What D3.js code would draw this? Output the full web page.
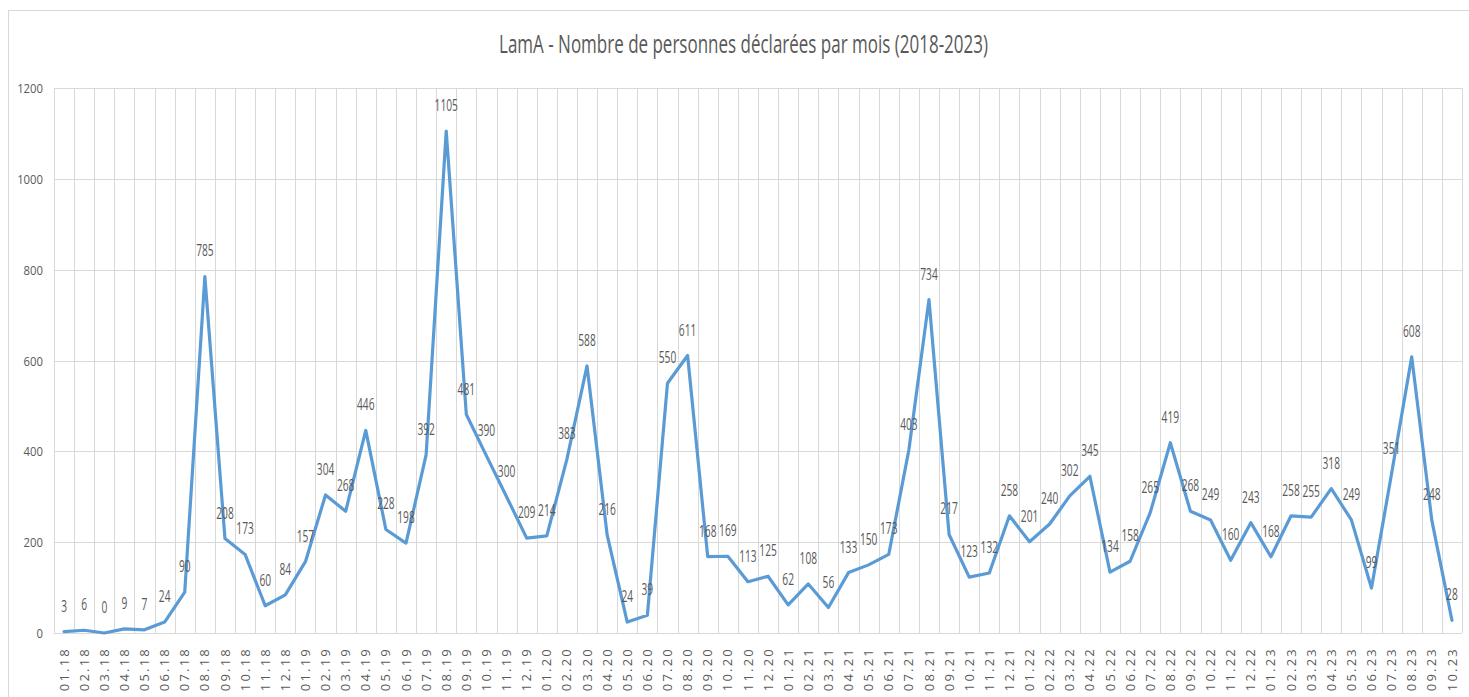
<!DOCTYPE html>
<html><head><meta charset="utf-8">
<script src="https://cdn.jsdelivr.net/npm/d3@7/dist/d3.min.js"></script>
<style>
body{margin:0;background:#fff;}
text{font-family:"Open Sans",Arial,sans-serif;fill:#595959;}
</style></head><body>
<svg id="c" width="1469" height="697"></svg>
<script>
const categories = [
"01.18","02.18","03.18","04.18","05.18","06.18","07.18","08.18","09.18","10.18","11.18","12.18",
"01.19","02.19","03.19","04.19","05.19","06.19","07.19","08.19","09.19","10.19","11.19","12.19",
"01.20","02.20","03.20","04.20","05.20","06.20","07.20","08.20","09.20","10.20","11.20","12.20",
"01.21","02.21","03.21","04.21","05.21","06.21","07.21","08.21","09.21","10.21","11.21","12.21",
"01.22","02.22","03.22","04.22","05.22","06.22","07.22","08.22","09.22","10.22","11.22","12.22",
"01.23","02.23","03.23","04.23","05.23","06.23","07.23","08.23","09.23","10.23"];
const values = [
3,6,0,9,7,24,90,785,208,173,60,84,
157,304,268,446,228,198,392,1105,481,390,300,209,
214,383,588,216,24,39,550,611,168,169,113,125,
62,108,56,133,150,173,403,734,217,123,132,258,
201,240,302,345,134,158,265,419,268,249,160,243,
168,258,255,318,249,99,351,608,248,28];
const yTicks = [0,200,400,600,800,1000,1200];
const title = "LamA - Nombre de personnes déclarées par mois (2018-2023)";

const svg = d3.select("#c");
const m = {left:54, right:1462, top:88, bottom:633};

svg.append("rect").attr("x",8.5).attr("y",10.5).attr("width",1470).attr("height",720)
  .attr("fill","#fff").attr("stroke","#D9D9D9").attr("stroke-width",1);

const x = d3.scaleBand().domain(categories).range([m.left,m.right]).paddingInner(0).paddingOuter(0);
const y = d3.scaleLinear().domain([0,1200]).range([m.bottom,m.top]);

// horizontal gridlines
svg.append("g").selectAll("line").data(yTicks).join("line")
  .attr("x1",m.left).attr("x2",m.right)
  .attr("y1",d=>Math.round(y(d))+0.5).attr("y2",d=>Math.round(y(d))+0.5)
  .attr("stroke","#D9D9D9").attr("stroke-width",1);

// vertical gridlines at category boundaries
const bounds = categories.map(c=>x(c)).concat([m.right]);
svg.append("g").selectAll("line").data(bounds).join("line")
  .attr("x1",d=>Math.round(d)+0.5).attr("x2",d=>Math.round(d)+0.5)
  .attr("y1",m.top).attr("y2",m.bottom)
  .attr("stroke","#D9D9D9").attr("stroke-width",1);

// y axis labels
const yAxis = d3.axisLeft(y).tickValues(yTicks).tickSize(0).tickFormat(d3.format("d"));
const ya = svg.append("g").attr("transform",`translate(${m.left},0)`).call(yAxis);
ya.select(".domain").remove();
ya.selectAll("text").style("font-size","13px").attr("fill","#595959")
  .attr("x",0).attr("dy","0.35em").attr("transform","translate(-11,0) scale(0.87,1)");

// x axis labels
const xAxis = d3.axisBottom(x).tickSize(0).tickPadding(0);
const xa = svg.append("g").attr("transform",`translate(0,${m.bottom})`).call(xAxis);
xa.select(".domain").remove();
xa.selectAll("text").style("font-size","13px").style("letter-spacing","2.2px").attr("fill","#595959")
  .attr("text-anchor","end").attr("dy","0.35em")
  .attr("transform","translate(0,14) rotate(-90)").attr("x",0).attr("y",0);

// line
const line = d3.line().x((d,i)=>x(categories[i])+x.bandwidth()/2).y(d=>y(d));
svg.append("path").datum(values).attr("d",line).attr("fill","none")
  .attr("stroke","#5B9BD5").attr("stroke-width",3.2).attr("stroke-linejoin","round").attr("stroke-linecap","round");

// data labels
svg.append("g").selectAll("text").data(values).join("text")
  .attr("transform",(d,i)=>`translate(${x(categories[i])+x.bandwidth()/2},${y(d)-20}) scale(0.6,1)`)
  .attr("text-anchor","middle").style("font-size","17px").attr("fill","#404040")
  .text(d=>d);

// title
svg.append("text").attr("transform","translate(743.5,53) scale(0.68,1)").attr("text-anchor","middle")
  .style("font-size","25px").attr("fill","#595959").text(title);
</script>
</body></html>
